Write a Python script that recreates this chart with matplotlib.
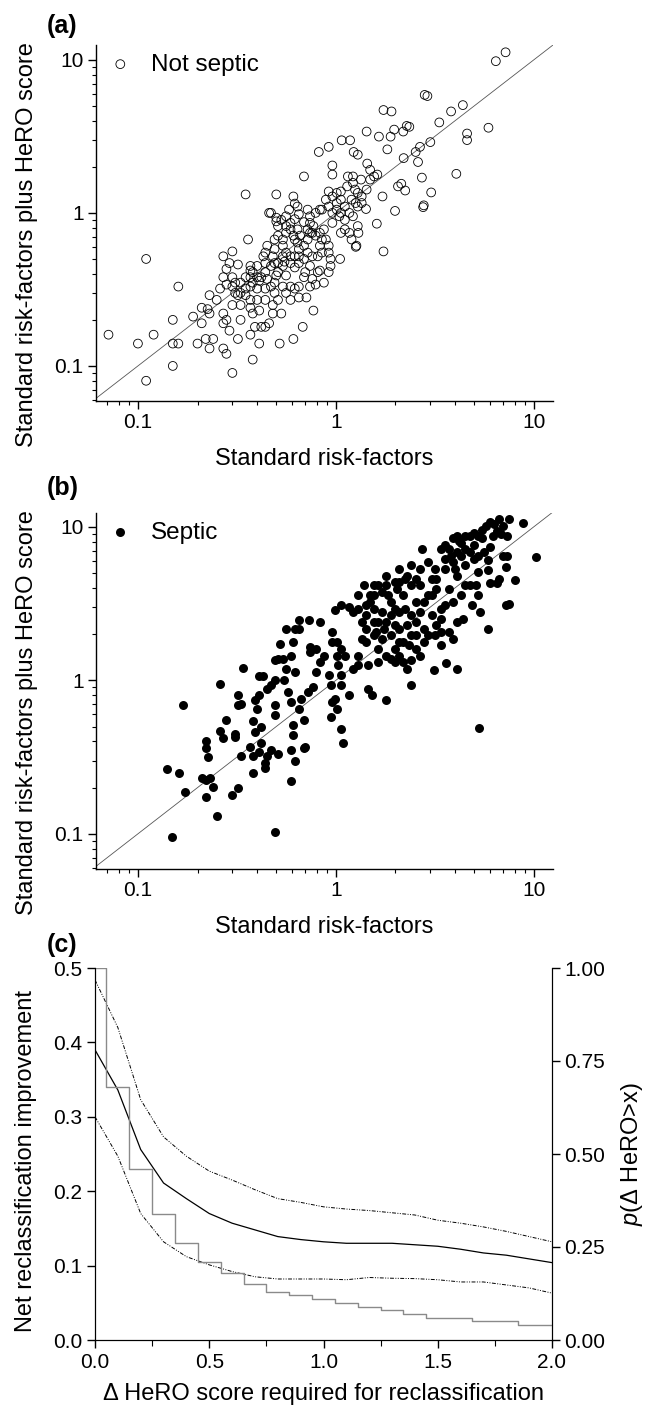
import numpy as np
import matplotlib.pyplot as plt
from matplotlib.ticker import LogLocator, FixedLocator, NullFormatter, FormatStrFormatter

plt.rcParams['font.family'] = ['Liberation Sans', 'DejaVu Sans']
plt.rcParams['mathtext.fontset'] = 'custom'
plt.rcParams['mathtext.rm'] = 'Liberation Sans'
plt.rcParams['mathtext.it'] = 'Liberation Sans:italic'

# ---- panel (a): not septic, risk from standard factors vs factors + HeRO
a_x = [0.071, 0.10, 0.11, 0.11, 0.12, 0.15, 0.15, 0.15, 0.16, 0.16, 0.19, 0.20, 0.21, 0.21,
       0.23, 0.23, 0.22, 0.23, 0.24, 0.27, 0.30, 0.27, 0.28, 0.30, 0.32, 0.35, 0.36, 0.38,
       0.46, 0.50, 0.52, 0.53, 0.61, 0.61, 0.68, 0.69, 0.77, 0.82, 0.92, 0.96, 0.96, 1.07,
       1.18, 1.23, 1.29, 1.43, 1.74, 1.91, 1.65, 1.89, 1.97, 1.82, 2.19, 2.28, 2.35, 2.20,
       2.66, 2.53, 2.60, 2.72, 2.81, 2.90, 3.00, 3.33, 3.82, 4.38, 4.06, 4.60, 4.60, 5.90,
       6.43, 7.20, 3.03, 2.76, 2.78, 2.24, 2.14, 2.06, 1.99, 1.72, 1.61, 1.74, 1.26, 1.27,
       1.05, 1.30, 1.29, 1.42, 1.43, 1.34, 1.25, 1.15, 1.49, 1.56, 1.62, 1.49, 1.44,
       0.225, 0.25, 0.26, 0.27, 0.28, 0.28, 0.30, 0.31, 0.32, 0.33, 0.35, 0.37, 0.30, 0.33,
       0.27, 0.28, 0.27, 0.29, 0.33, 0.37, 0.38, 0.40, 0.41, 0.39, 0.42, 0.44, 0.46, 0.48,
       0.48, 0.44, 0.37, 0.41, 0.35, 0.37, 0.37, 0.38, 0.40, 0.41, 0.42, 0.44, 0.45, 0.47,
       0.49, 0.50, 0.51, 0.54, 0.56, 0.59, 0.62, 0.56, 0.59, 0.65, 0.71, 0.74, 0.76, 0.79,
       0.87, 0.70, 0.81, 0.83, 0.65, 0.69, 0.74, 0.62, 0.59, 0.55, 0.49, 0.47, 0.44, 0.43,
       0.44, 0.48, 0.49, 0.45, 0.49, 0.51, 0.54, 0.56, 0.59, 0.61, 0.64, 0.65, 0.69, 0.72,
       0.76, 0.79, 0.77, 0.74, 0.69, 0.64, 0.59, 0.56, 0.51, 0.50, 0.53, 0.56, 0.62, 0.65,
       0.72, 0.79, 0.83, 0.87, 0.89, 0.92, 0.92, 0.94, 0.94, 0.92, 0.85, 0.83, 0.81, 0.76,
       0.72, 0.85, 0.83, 0.96, 0.96, 1.01, 1.04, 1.06, 1.11, 1.17, 1.22, 1.06, 1.17, 1.11,
       1.20, 1.01, 1.06, 1.11, 0.96, 1.01, 0.89, 0.92, 0.85, 0.92, 1.06, 1.14, 1.20, 1.26,
       1.29, 1.35, 1.35, 1.29, 1.22, 1.22, 0.74, 0.66, 0.72, 0.62, 0.54, 0.56, 0.59, 0.62,
       0.65, 0.54, 0.51, 0.40, 0.37, 0.37, 0.35, 0.31, 0.33, 0.30, 0.32, 0.29, 0.38, 0.44,
       0.49, 0.40, 0.54, 0.51, 0.65, 0.69, 0.47, 0.50, 0.62, 0.64, 0.58, 0.74]
a_y = [0.16, 0.14, 0.50, 0.08, 0.16, 0.20, 0.14, 0.10, 0.33, 0.14, 0.21, 0.14, 0.24, 0.19,
       0.29, 0.22, 0.15, 0.13, 0.15, 0.52, 0.56, 0.13, 0.12, 0.09, 0.15, 1.32, 0.67, 0.11,
       1.00, 1.32, 0.14, 0.22, 0.15, 1.28, 0.18, 1.73, 0.23, 2.50, 2.70, 2.04, 1.78, 2.98,
       2.98, 2.50, 2.40, 3.40, 4.70, 4.60, 3.15, 3.15, 3.50, 2.60, 3.40, 3.70, 3.65, 2.28,
       2.70, 2.50, 2.15, 1.70, 5.90, 5.80, 2.90, 3.90, 4.60, 5.06, 1.80, 3.30, 2.99, 3.60,
       9.80, 11.2, 1.36, 1.09, 1.12, 1.40, 1.55, 1.49, 1.03, 1.28, 0.85, 0.56, 0.60, 0.61,
       0.50, 0.74, 0.82, 1.06, 1.42, 1.65, 1.42, 1.73, 1.65, 1.73, 1.78, 1.91, 2.10,
       0.235, 0.27, 0.32, 0.38, 0.43, 0.34, 0.33, 0.30, 0.29, 0.30, 0.29, 0.27, 0.25, 0.25,
       0.22, 0.20, 0.19, 0.17, 0.20, 0.24, 0.22, 0.27, 0.23, 0.18, 0.18, 0.18, 0.19, 0.22,
       0.25, 0.27, 0.16, 0.14, 0.32, 0.33, 0.38, 0.41, 0.38, 0.36, 0.38, 0.41, 0.37, 0.33,
       0.35, 0.39, 0.41, 0.45, 0.39, 0.33, 0.32, 0.30, 0.27, 0.28, 0.28, 0.33, 0.37, 0.34,
       0.35, 0.41, 0.41, 0.42, 0.47, 0.50, 0.45, 0.44, 0.47, 0.48, 0.47, 0.45, 0.47, 0.52,
       0.55, 0.52, 0.58, 0.61, 0.67, 0.71, 0.67, 0.74, 0.78, 0.71, 0.64, 0.58, 0.61, 0.67,
       0.74, 0.71, 0.82, 0.86, 0.87, 0.78, 0.86, 0.82, 0.82, 0.88, 0.90, 0.95, 0.91, 0.98,
       1.05, 1.00, 1.05, 0.78, 0.67, 0.61, 0.55, 0.50, 0.45, 0.41, 0.55, 0.61, 0.52, 0.52,
       0.55, 0.67, 0.74, 0.86, 1.00, 1.05, 0.95, 1.00, 0.90, 1.00, 0.95, 0.74, 0.74, 0.78,
       0.67, 1.16, 1.22, 1.10, 1.28, 1.35, 1.22, 1.10, 1.05, 1.38, 1.38, 1.49, 1.22, 1.16,
       1.10, 1.16, 1.28, 1.35, 1.57, 1.73, 0.74, 0.71, 0.78, 0.67, 0.61, 0.55, 0.52, 0.52,
       0.52, 0.52, 0.47, 0.45, 0.45, 0.42, 0.38, 0.35, 0.35, 0.38, 0.46, 0.47, 0.35, 0.32,
       0.30, 0.32, 0.33, 0.27, 0.33, 0.38, 1.00, 0.93, 1.15, 1.10, 1.05, 0.95]

# ---- panel (b): septic
b_x = [0.141, 0.148, 0.162, 0.169, 0.173, 0.21, 0.22, 0.22, 0.23, 0.24, 0.25, 0.22, 0.22,
       0.225, 0.26, 0.26, 0.27, 0.28, 0.30, 0.32, 0.31, 0.31, 0.32, 0.32, 0.33, 0.34, 0.33,
       0.37, 0.38, 0.38, 0.38, 0.39, 0.40, 0.41, 0.43, 0.41, 0.39, 0.42, 0.42, 0.41, 0.44,
       0.45, 0.44, 0.47, 0.45, 0.47, 0.49, 0.49, 0.49, 0.51, 0.49, 0.49, 0.51, 0.52, 0.54,
       0.55, 0.56, 0.57, 0.59, 0.61, 0.62, 0.59, 0.59, 0.59, 0.61, 0.61, 0.62, 0.65, 0.67,
       0.69, 0.69, 0.70, 0.72, 0.74, 0.77, 0.79, 0.83, 0.56, 0.62, 0.65, 0.73, 0.83, 0.65,
       0.74, 0.79, 0.87, 0.92, 0.94, 0.96, 1.01, 0.99, 0.94, 1.06, 1.09, 1.06, 1.06, 1.03,
       1.01, 0.96, 0.96, 1.01, 1.06, 1.11, 1.17, 1.22, 1.29, 1.29, 1.35, 1.42, 1.45, 1.45,
       1.52, 1.79, 1.35, 1.29, 1.42, 1.56, 0.99, 1.06, 1.17, 1.22, 1.29, 1.38, 1.56, 1.64,
       1.80, 1.99, 2.08, 2.30, 2.41, 2.66, 2.72, 2.93, 3.07, 3.22, 3.15, 3.40, 3.55, 3.73,
       3.90, 4.10, 4.30, 4.74, 4.97, 5.20, 5.50, 5.76, 6.00, 6.30, 6.65, 6.97, 7.50, 7.30,
       8.80, 10.3, 8.00, 7.50, 7.20, 7.20, 7.00, 7.30, 6.65, 6.50, 6.00, 5.90, 5.90, 6.00,
       5.20, 5.10, 4.86, 5.35, 5.90, 5.30, 4.50, 4.40, 4.10, 3.90, 3.73, 3.55, 3.40, 3.15,
       3.40, 3.60, 4.10, 3.90, 3.73, 3.13, 2.78, 2.53, 2.66, 2.78, 2.93, 2.53, 2.41, 2.24,
       2.19, 2.04, 1.89, 1.71, 1.64, 1.80, 1.99, 2.08, 1.89, 1.71, 1.56, 1.64, 1.80, 1.99,
       2.19, 2.41, 2.53, 2.66, 2.41, 2.30, 2.41, 2.19, 2.08, 2.78, 2.93, 3.22, 3.07, 3.40,
       3.07, 3.22, 4.10, 4.50, 4.97, 4.74, 4.30, 3.90, 3.55, 2.53, 2.66, 2.41, 2.24, 2.08,
       1.80, 1.71, 1.56, 1.49, 1.49, 1.42, 1.84, 1.99, 2.08, 1.89, 1.75, 1.60, 1.56, 1.42,
       2.08, 2.35, 1.99, 1.89, 1.64, 2.30, 2.53, 3.40, 4.50, 5.20, 5.60, 6.20, 6.50, 6.80,
       5.50, 4.97, 4.50, 4.20, 3.82, 4.10, 3.55, 4.00, 4.30, 4.74, 5.20]
b_y = [0.266, 0.095, 0.249, 0.687, 0.187, 0.231, 0.174, 0.223, 0.231, 0.202, 0.13, 0.40,
       0.36, 0.316, 0.95, 0.47, 0.42, 0.55, 0.18, 0.20, 0.45, 0.43, 0.80, 0.69, 0.70, 1.21,
       0.32, 0.37, 0.54, 0.25, 0.32, 0.74, 0.65, 1.07, 1.07, 0.80, 0.46, 0.50, 0.39, 0.34,
       0.27, 0.32, 0.29, 0.35, 0.88, 0.93, 1.00, 0.69, 0.59, 0.33, 0.103, 1.35, 1.38, 1.73,
       1.38, 1.00, 1.19, 0.84, 1.45, 1.78, 1.14, 0.72, 0.22, 0.35, 0.51, 0.44, 0.30, 0.65,
       0.76, 0.55, 0.36, 0.37, 0.84, 1.53, 0.90, 1.13, 1.32, 2.17, 2.17, 2.46, 2.46, 2.40,
       2.17, 1.64, 1.60, 1.45, 1.08, 0.93, 0.72, 0.65, 0.76, 0.58, 0.48, 0.39, 0.93, 1.08,
       1.25, 1.45, 2.06, 1.78, 1.78, 1.60, 1.45, 0.80, 1.19, 1.25, 1.45, 1.87, 1.78, 1.25,
       0.88, 0.80, 0.74, 2.40, 2.93, 2.65, 2.93, 2.86, 3.08, 3.00, 2.80, 3.57, 4.15, 3.57,
       4.15, 4.80, 4.37, 5.30, 4.80, 5.60, 5.30, 7.20, 5.90, 4.60, 3.95, 5.30, 7.20, 7.60,
       7.20, 8.40, 8.70, 7.90, 8.70, 7.60, 8.70, 9.60, 10.1, 10.8, 10.4, 11.2, 10.1, 11.2,
       8.70, 10.6, 6.40, 4.50, 3.15, 3.10, 5.50, 6.50, 6.50, 4.60, 4.30, 4.30, 5.20, 6.06,
       7.40, 5.10, 4.15, 3.08, 2.79, 2.17, 0.49, 4.15, 2.52, 2.40, 3.24, 3.95, 3.08, 2.52,
       1.96, 1.69, 1.30, 1.19, 1.87, 2.06, 1.17, 2.17, 2.40, 2.79, 3.24, 3.57, 3.24, 2.65,
       2.93, 3.57, 3.95, 3.24, 2.79, 2.40, 2.40, 2.28, 2.17, 1.96, 1.87, 1.96, 1.60, 1.45,
       1.60, 1.78, 1.96, 1.60, 1.45, 1.35, 1.19, 0.93, 1.32, 1.45, 1.78, 1.96, 2.28, 2.65,
       2.93, 3.57, 4.60, 4.80, 5.60, 6.20, 6.90, 6.50, 5.90, 5.30, 4.60, 4.15, 4.15, 4.60,
       4.37, 4.15, 3.75, 4.15, 3.57, 3.24, 3.08, 3.57, 2.93, 2.79, 2.65, 2.17, 2.06, 2.40,
       2.17, 1.78, 1.69, 1.32, 1.38, 1.32, 2.28, 1.96, 2.06, 7.20, 6.50, 6.90, 8.70, 9.40,
       9.00, 8.50, 9.10, 8.70, 8.10, 6.50, 6.90, 6.20, 5.30, 3.57, 4.15, 3.57]

# ---- panel (c): NRI vs delta HeRO threshold
c_x = [0.0, 0.1, 0.2, 0.3, 0.4, 0.5, 0.6, 0.7, 0.8, 0.9, 1.0,
       1.1, 1.2, 1.3, 1.4, 1.5, 1.6, 1.7, 1.8, 1.9, 2.0]
nri = [0.390, 0.336, 0.256, 0.211, 0.190, 0.170, 0.157, 0.148, 0.139, 0.135, 0.132,
       0.130, 0.130, 0.130, 0.128, 0.126, 0.122, 0.117, 0.114, 0.109, 0.104]
nri_hi = [0.484, 0.420, 0.323, 0.273, 0.247, 0.227, 0.215, 0.202, 0.190, 0.185, 0.179,
          0.176, 0.174, 0.171, 0.168, 0.161, 0.157, 0.152, 0.146, 0.139, 0.132]
nri_lo = [0.300, 0.247, 0.170, 0.132, 0.112, 0.101, 0.092, 0.085, 0.082, 0.082, 0.082,
          0.081, 0.084, 0.083, 0.0825, 0.081, 0.078, 0.078, 0.074, 0.070, 0.063]
p_gt = [1.00, 0.68, 0.46, 0.34, 0.26, 0.21, 0.18, 0.15, 0.13, 0.12, 0.11,
        0.10, 0.09, 0.08, 0.07, 0.06, 0.06, 0.05, 0.05, 0.04, 0.04]

W, H = 646, 1407
fig = plt.figure(figsize=(W / 100, H / 100), dpi=100)

TICK_FS = 15
LAB_FS = 17


def box(l, t, r, b):
    return [l / W, 1 - b / H, (r - l) / W, (b - t) / H]


def style_log(ax):
    ax.set_xscale('log')
    ax.set_yscale('log')
    ax.set_xlim(0.0614, 12.5)
    for s in ['top', 'right']:
        ax.spines[s].set_visible(False)
    for s in ['left', 'bottom']:
        ax.spines[s].set_linewidth(1.0)
    ax.xaxis.set_major_locator(FixedLocator([0.1, 1, 10]))
    ax.yaxis.set_major_locator(FixedLocator([0.1, 1, 10]))
    ax.xaxis.set_major_formatter(FormatStrFormatter('%g'))
    ax.yaxis.set_major_formatter(FormatStrFormatter('%g'))
    ax.xaxis.set_minor_locator(LogLocator(base=10, subs=np.arange(2, 10)))
    ax.yaxis.set_minor_locator(LogLocator(base=10, subs=np.arange(2, 10)))
    ax.xaxis.set_minor_formatter(NullFormatter())
    ax.yaxis.set_minor_formatter(NullFormatter())
    ax.tick_params(which='major', direction='out', length=6, width=1, labelsize=TICK_FS, pad=3)
    ax.tick_params(which='minor', direction='out', length=3, width=0.8)
    ax.plot([0.01, 100], [0.01, 100], color='#555555', lw=0.6)
    ax.set_xlabel('Standard risk-factors', fontsize=LAB_FS, labelpad=11)
    ax.set_ylabel('Standard risk-factors plus HeRO score', fontsize=LAB_FS)
    ax.yaxis.set_label_coords(-0.128, 0.44)


# (a)
axa = fig.add_axes(box(96, 45, 553, 401))
style_log(axa)
axa.set_ylim(0.059, 12.5)
axa.scatter(a_x, a_y, s=40, facecolors='none', edgecolors='black', linewidths=0.6,
            label='Not septic', zorder=3)
axa.legend(loc='upper left', frameon=False, fontsize=17.5, handletextpad=0.6,
           borderaxespad=0.2, handlelength=1.3, borderpad=0.15)
fig.text(47 / W, 1 - 26 / H, '(a)', fontsize=18, fontweight='bold', va='center')

# (b)
axb = fig.add_axes(box(96, 513, 553, 869))
style_log(axb)
axb.set_ylim(0.059, 12.3)
axb.scatter(b_x, b_y, s=42, color='black', linewidths=0, label='Septic', zorder=3)
axb.legend(loc='upper left', frameon=False, fontsize=17.5, handletextpad=0.6,
           borderaxespad=0.2, handlelength=1.3, borderpad=0.15)
fig.text(47 / W, 1 - 488 / H, '(b)', fontsize=18, fontweight='bold', va='center')

# (c)
axc = fig.add_axes(box(95, 968, 552, 1340))
axc.set_xlim(0, 2)
axc.set_ylim(0, 0.5)
axc.spines['top'].set_visible(False)
axc.plot(c_x, nri, color='black', lw=0.9)
axc.plot(c_x, nri_hi, color='black', lw=0.7, dashes=[4, 1.5, 1, 1.5, 1, 1.5])
axc.plot(c_x, nri_lo, color='black', lw=0.7, dashes=[4, 1.5, 1, 1.5, 1, 1.5])
axc.xaxis.set_major_locator(FixedLocator([0, 0.5, 1.0, 1.5, 2.0]))
axc.xaxis.set_minor_locator(FixedLocator([0.25, 0.75, 1.25, 1.75]))
axc.xaxis.set_major_formatter(FormatStrFormatter('%.1f'))
axc.yaxis.set_major_locator(FixedLocator([0, 0.1, 0.2, 0.3, 0.4, 0.5]))
axc.yaxis.set_major_formatter(FormatStrFormatter('%.1f'))
axc.tick_params(which='major', direction='out', length=6, width=1, labelsize=TICK_FS, pad=3)
axc.tick_params(which='minor', direction='out', length=4, width=0.8)
axc.set_xlabel('Δ HeRO score required for reclassification', fontsize=LAB_FS, labelpad=8)
axc.set_ylabel('Net reclassification improvement', fontsize=LAB_FS)
axc.yaxis.set_label_coords(-0.128, 0.48)

axr = axc.twinx()
axr.set_ylim(0, 1.0)
axr.spines['top'].set_visible(False)
axr.step(c_x, p_gt, where='mid', color='#8a8a8a', lw=1.0)
axr.yaxis.set_major_locator(FixedLocator([0, 0.25, 0.5, 0.75, 1.0]))
axr.yaxis.set_major_formatter(FormatStrFormatter('%.2f'))
axr.tick_params(which='major', direction='out', length=6, width=1, labelsize=TICK_FS, pad=3)
axr.set_ylabel('$p$(Δ HeRO>x)', fontsize=LAB_FS, rotation=90, labelpad=10)
fig.text(47 / W, 1 - 945 / H, '(c)', fontsize=18, fontweight='bold', va='center')

fig.savefig('out.png', dpi=100)
